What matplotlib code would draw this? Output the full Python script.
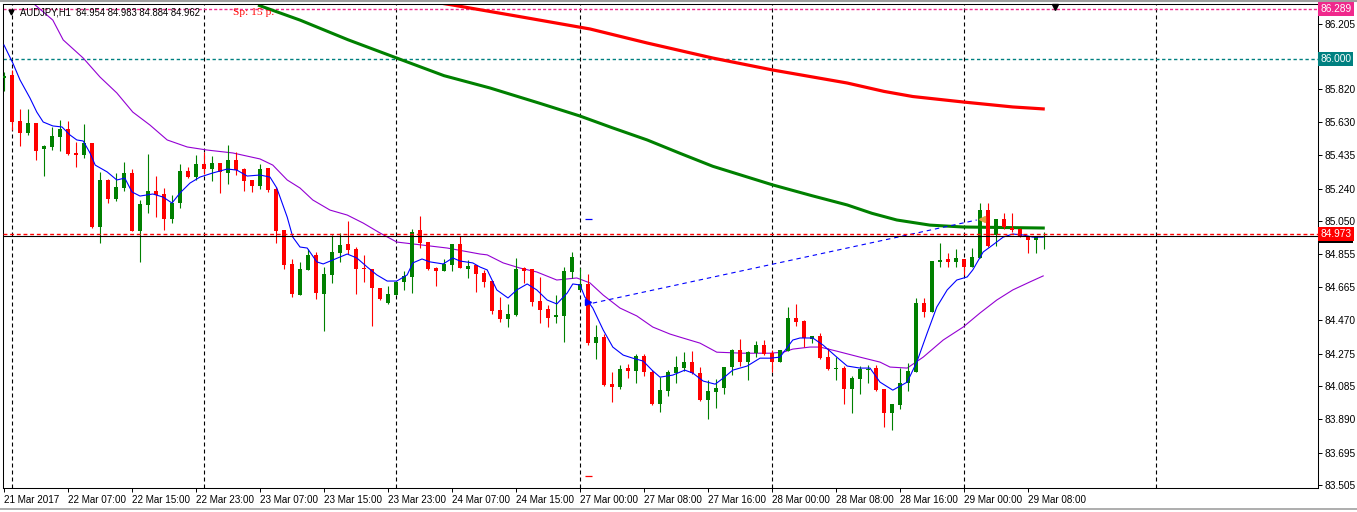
import matplotlib
matplotlib.use("Agg")
import matplotlib.pyplot as plt
from matplotlib.lines import Line2D
import numpy as np

W, H, DPI = 1357, 512, 100

# ============================================
# Data: AUDJPY H1, bars from 21 Mar 23:00 to 29 Mar 10:00 (bar index on x)
# ============================================
opens = [85.889, 85.906, 85.637, 85.566, 85.625, 85.473, 85.484, 85.543, 85.590, 85.449,
         85.438, 85.508, 85.016, 85.291, 85.180, 85.244, 85.332, 84.992, 85.145, 85.227,
         85.209, 85.063, 85.156, 85.344, 85.309, 85.385, 85.355, 85.391, 85.332, 85.408,
         85.355, 85.291, 85.256, 85.361, 85.238, 84.998, 84.799, 84.617, 84.764, 84.852,
         84.623, 84.735, 84.863, 84.916, 84.887, 84.776, 84.770, 84.658, 84.570, 84.617,
         84.694, 84.723, 84.998, 84.928, 84.776, 84.758, 84.793, 84.916, 84.770, 84.793,
         84.746, 84.699, 84.530, 84.477, 84.500, 84.776, 84.770, 84.582, 84.535, 84.489,
         84.494, 84.752, 84.647, 84.682, 84.336, 84.371, 84.096, 84.078, 84.190, 84.172,
         84.260, 84.166, 83.979, 84.055, 84.160, 84.190, 84.225, 84.160, 84.002, 84.049,
         84.073, 84.196, 84.295, 84.225, 84.278, 84.324, 84.278, 84.225, 84.289, 84.483,
         84.465, 84.360, 84.377, 84.254, 84.187, 84.190, 84.067, 84.125, 84.181, 84.190,
         84.067, 83.926, 83.973, 84.102, 84.166, 84.570, 84.518, 84.811, 84.828, 84.811,
         84.828, 84.781, 84.834, 85.115, 84.969, 85.063, 85.010, 85.004, 84.963, 84.940,
         84.954]
highs = [85.924, 85.936, 85.707, 85.707, 85.625, 85.496, 85.602, 85.643, 85.637, 85.514,
         85.619, 85.508, 85.338, 85.297, 85.332, 85.397, 85.355, 85.174, 85.443, 85.315,
         85.244, 85.203, 85.385, 85.367, 85.438, 85.455, 85.432, 85.391, 85.496, 85.455,
         85.361, 85.291, 85.385, 85.361, 85.250, 84.998, 84.828, 84.811, 84.887, 84.869,
         84.781, 84.969, 84.981, 85.051, 84.899, 84.852, 84.770, 84.658, 84.670, 84.699,
         84.758, 85.004, 85.080, 84.928, 84.781, 84.828, 84.916, 84.963, 84.822, 84.793,
         84.764, 84.699, 84.606, 84.564, 84.834, 84.781, 84.770, 84.723, 84.559, 84.617,
         84.781, 84.869, 84.776, 84.740, 84.442, 84.389, 84.166, 84.207, 84.213, 84.272,
         84.272, 84.178, 84.137, 84.178, 84.260, 84.283, 84.289, 84.196, 84.119, 84.125,
         84.196, 84.301, 84.360, 84.289, 84.348, 84.354, 84.295, 84.295, 84.547, 84.564,
         84.471, 84.377, 84.395, 84.307, 84.254, 84.202, 84.143, 84.202, 84.207, 84.207,
         84.067, 83.979, 84.190, 84.219, 84.600, 84.600, 84.817, 84.922, 84.863, 84.887,
         84.828, 84.893, 85.156, 85.156, 85.063, 85.098, 85.098, 85.010, 84.963, 84.963,
         84.983]
lows = [85.812, 85.584, 85.490, 85.555, 85.408, 85.315, 85.467, 85.461, 85.438, 85.367,
        85.420, 85.010, 84.922, 85.156, 85.168, 85.227, 84.992, 84.811, 85.098, 85.074,
        84.998, 85.039, 85.127, 85.303, 85.291, 85.326, 85.285, 85.215, 85.268, 85.320,
        85.227, 85.221, 85.238, 85.221, 84.922, 84.770, 84.606, 84.617, 84.764, 84.594,
        84.407, 84.688, 84.811, 84.858, 84.623, 84.694, 84.436, 84.588, 84.564, 84.617,
        84.647, 84.629, 84.893, 84.764, 84.670, 84.758, 84.758, 84.776, 84.717, 84.635,
        84.664, 84.506, 84.459, 84.430, 84.494, 84.688, 84.553, 84.453, 84.430, 84.453,
        84.342, 84.717, 84.647, 84.324, 84.242, 84.084, 83.991, 84.067, 84.131, 84.102,
        84.143, 83.973, 83.932, 84.026, 84.102, 84.172, 84.155, 83.997, 83.891, 83.955,
        84.037, 84.149, 84.202, 84.119, 84.254, 84.266, 84.166, 84.225, 84.289, 84.436,
        84.313, 84.336, 84.242, 84.178, 84.119, 83.979, 83.926, 84.037, 84.102, 84.055,
        83.844, 83.827, 83.950, 84.055, 84.166, 84.489, 84.518, 84.781, 84.781, 84.781,
        84.735, 84.781, 84.834, 84.899, 84.904, 85.004, 84.987, 84.957, 84.863, 84.863,
        84.884]
closes = [85.900, 85.631, 85.566, 85.625, 85.461, 85.490, 85.549, 85.590, 85.443, 85.438,
          85.508, 85.016, 85.291, 85.180, 85.250, 85.332, 84.992, 85.150, 85.227, 85.203,
          85.063, 85.156, 85.344, 85.309, 85.385, 85.355, 85.391, 85.338, 85.408, 85.350,
          85.285, 85.256, 85.355, 85.233, 84.992, 84.793, 84.623, 84.770, 84.852, 84.629,
          84.740, 84.869, 84.910, 84.881, 84.770, 84.770, 84.658, 84.594, 84.623, 84.694,
          84.729, 84.987, 84.922, 84.770, 84.758, 84.799, 84.916, 84.776, 84.787, 84.740,
          84.694, 84.524, 84.477, 84.506, 84.770, 84.758, 84.576, 84.529, 84.483, 84.500,
          84.758, 84.840, 84.682, 84.336, 84.371, 84.090, 84.078, 84.184, 84.172, 84.260,
          84.166, 83.979, 84.061, 84.166, 84.196, 84.225, 84.160, 84.002, 84.055, 84.073,
          84.196, 84.295, 84.225, 84.283, 84.324, 84.272, 84.225, 84.295, 84.483, 84.459,
          84.366, 84.377, 84.248, 84.184, 84.192, 84.067, 84.131, 84.184, 84.187, 84.061,
          83.926, 83.979, 84.102, 84.172, 84.570, 84.518, 84.817, 84.822, 84.811, 84.834,
          84.781, 84.840, 85.115, 84.904, 85.063, 85.016, 84.998, 84.963, 84.940, 84.957,
          84.962]

# moving averages (bar position, price)
fast_bar = [0, 1.1, 2, 3.25, 4.1, 4.9, 6.1, 7.25, 8.25, 9.1,
            9.9, 10.75, 11.4, 12.9, 14.1, 15.1, 16, 17, 18.6, 19.9,
            21, 22, 23.25, 24.5, 26.1, 27.9, 29.1, 30.4, 32, 33.25,
            34.1, 35.4, 36.1, 37, 37.9, 39.1, 39.9, 41.1, 42.9, 44.1,
            45.4, 46.6, 47.9, 49.1, 50.4, 51.1, 52.25, 53.25, 54.9, 56.1,
            57, 58.6, 59.5, 60.4, 61.6, 63, 64.1, 65.4, 66.6, 67.9,
            69.1, 70.4, 71.1, 72, 72.6, 73.6, 74.9, 76.1, 77.4, 78.6,
            79.9, 81, 82, 83.6, 85.1, 86.1, 87.4, 88.9, 89.9, 91.1,
            92.9, 94.5, 95.75, 97, 98.6, 99.5, 101.1, 102.4, 104.1, 105.4,
            107, 108.25, 109.5, 111.1, 112.9, 114.1, 115.4, 116.6, 117.9, 119.1,
            120.4, 121.1, 122.4, 123.6, 124.9, 126.1, 127.4, 128.6, 129.9]
fast_val = [86.079, 85.974, 85.875, 85.769, 85.687, 85.629, 85.606, 85.600, 85.553, 85.524,
            85.518, 85.448, 85.377, 85.337, 85.290, 85.301, 85.220, 85.196, 85.208, 85.190,
            85.155, 85.214, 85.272, 85.307, 85.331, 85.354, 85.348, 85.313, 85.319, 85.307,
            85.243, 85.073, 84.956, 84.898, 84.892, 84.811, 84.799, 84.822, 84.857, 84.834,
            84.781, 84.735, 84.699, 84.699, 84.735, 84.805, 84.828, 84.811, 84.799, 84.834,
            84.816, 84.805, 84.781, 84.764, 84.647, 84.600, 84.647, 84.682, 84.647, 84.588,
            84.565, 84.629, 84.682, 84.676, 84.606, 84.541, 84.413, 84.313, 84.266, 84.248,
            84.231, 84.178, 84.137, 84.149, 84.178, 84.161, 84.114, 84.096, 84.131, 84.178,
            84.202, 84.248, 84.248, 84.254, 84.354, 84.366, 84.366, 84.324, 84.254, 84.202,
            84.190, 84.190, 84.108, 84.061, 84.108, 84.225, 84.395, 84.547, 84.647, 84.705,
            84.723, 84.764, 84.869, 84.910, 84.956, 84.974, 84.968, 84.956, 84.956]

slow_bar = [3.6, 6.1, 7.4, 9.9, 12, 14.1, 16.1, 18.25, 20.4, 22.9,
            25.4, 28.6, 32, 33.6, 35.4, 37, 38.6, 40.75, 42.9, 44.9,
            47, 49.1, 51.1, 53.25, 55.4, 57.4, 59.5, 60.4, 62.4, 64.5,
            66.6, 69.1, 71.6, 73.25, 74.9, 77, 79.1, 81.1, 83.25, 84.5,
            87, 89.1, 92.4, 95.75, 97.4, 98.6, 100.75, 102, 104.1, 107,
            109.5, 110.75, 112.9, 114.9, 117.4, 119.9, 122, 124.1, 126.1, 128.25,
            129.9]
slow_val = [86.325, 86.225, 86.109, 86.003, 85.892, 85.799, 85.687, 85.611, 85.524, 85.483,
            85.465, 85.448, 85.413, 85.377, 85.290, 85.243, 85.173, 85.114, 85.085, 85.038,
            84.980, 84.927, 84.916, 84.904, 84.892, 84.875, 84.857, 84.852, 84.805, 84.775,
            84.752, 84.705, 84.717, 84.688, 84.617, 84.541, 84.495, 84.430, 84.389, 84.371,
            84.336, 84.283, 84.277, 84.277, 84.283, 84.301, 84.313, 84.313, 84.289, 84.254,
            84.225, 84.196, 84.190, 84.254, 84.354, 84.430, 84.512, 84.588, 84.647, 84.694,
            84.729]

ma200_bar = [31.75, 37, 43, 49.1, 55, 60.75, 67, 72, 76, 80.4, 84.5, 88.6, 96.1,
             101, 105.4, 108.5, 111.6, 115.75, 119.9, 130.1]
ma200_val = [86.313, 86.225, 86.110, 86.003, 85.900, 85.828, 85.738, 85.664, 85.596, 85.524,
             85.446, 85.370, 85.261, 85.198, 85.144, 85.095, 85.056, 85.026, 85.015, 85.009]

ma_long_bar = [54.5, 56.1, 64.5, 73.25, 80.4, 88.6, 96.1, 105.4, 110, 113.6, 119.9, 126.1, 130.1]
ma_long_val = [86.325, 86.313, 86.245, 86.173, 86.091, 86.003, 85.933, 85.857, 85.808, 85.778,
               85.746, 85.717, 85.705]

# trend line and objects
trend_bar = [73.6, 121.6]
trend_val = [84.570, 85.056]
arrow_bar, arrow_val = 73.0, 84.576
mark_bar = 73.06
mark_hi, mark_lo = 85.062, 83.559
tri_bar, tri_val = 122.2, 85.062

level_top = 86.289
level_round = 86.000
ask_price = 84.973
bid_price = 84.962

yticks = [86.205, 85.820, 85.630, 85.435, 85.240, 85.050, 84.855,
          84.665, 84.470, 84.275, 84.085, 83.890, 83.695, 83.505]
xtick_bars = [0, 8, 16, 24, 32, 40, 48, 56, 64, 72, 80, 88, 96, 104, 112, 120, 128]
xtick_labels = ["21 Mar 2017", "22 Mar 07:00", "22 Mar 15:00", "22 Mar 23:00",
                "23 Mar 07:00", "23 Mar 15:00", "23 Mar 23:00", "24 Mar 07:00",
                "24 Mar 15:00", "27 Mar 00:00", "27 Mar 08:00", "27 Mar 16:00",
                "28 Mar 00:00", "28 Mar 08:00", "28 Mar 16:00", "29 Mar 00:00",
                "29 Mar 08:00"]
day_bars = [1, 25, 49, 72, 96, 120, 144]

header = "AUDJPY,H1  84.954 84.983 84.884 84.962"
spread = "Sp: 15 p."

GREEN = "#008000"
RED = "#ff0000"
FONT = "Liberation Sans"

# ============================================
# Figure
# ============================================
fig = plt.figure(figsize=(W / DPI, H / DPI), dpi=DPI, facecolor="white")
ax = fig.add_axes([3 / W, (H - 488.3) / H, (1318.3 - 3) / W, (488.3 - 3.5) / H])
ax.set_xlim(-0.125, 164.29)
ax.set_ylim(83.487, 86.322)

for b in day_bars:
    ax.axvline(b, color="black", lw=0.8, ls=(0, (3.6, 2.7)), zorder=0)

# price levels
ax.axhline(level_top, color="#f0288c", lw=1.0, ls=(0, (2.2, 1.5)), zorder=1)
ax.axhline(level_round, color="#008080", lw=1.0, ls=(0, (2.4, 1.9)), zorder=1)

# moving averages
ax.plot(ma_long_bar, ma_long_val, color=RED, lw=2.3, zorder=2, solid_capstyle="butt")
ax.plot(ma200_bar, ma200_val, color=GREEN, lw=2.2, zorder=2, solid_capstyle="butt")
ax.plot(slow_bar, slow_val, color="#9400d3", lw=0.8, zorder=2)

# candles
o, hi, lo, c = (np.array(a) for a in (opens, highs, lows, closes))
idx = np.arange(len(o))
cols = np.where(c > o, GREEN, RED)
ax.vlines(idx, lo, hi, colors=cols, lw=0.8, zorder=3)
body_h = np.maximum(np.abs(c - o), 0.006)
ax.bar(idx, body_h, bottom=np.minimum(o, c), width=0.62, color=cols, linewidth=0, zorder=3)

ax.plot(fast_bar, fast_val, color="#0000ff", lw=0.8, zorder=4)

# trend line and markers
ax.plot(trend_bar, trend_val, color="#0000ff", lw=0.8, ls=(0, (4, 3.5)), zorder=4)
ax.plot([arrow_bar], [arrow_val], marker=">", color="#0000ff", ms=5, zorder=5)
ax.plot([tri_bar], [tri_val], marker="<", color="#e0a040", ms=5, zorder=5)
ax.hlines([mark_hi], mark_bar - 0.45, mark_bar + 0.45, colors="#0000ff", lw=0.9, zorder=5)
ax.hlines([mark_lo], mark_bar - 0.45, mark_bar + 0.45, colors=RED, lw=0.9, zorder=5)

# bid / ask lines
ax.axhline(ask_price, color=RED, lw=1.0, ls=(0, (2.8, 2.0)), zorder=5)
ax.axhline(bid_price, color="black", lw=0.8, zorder=5)

# ============================================
# Axes styling
# ============================================
for s in ax.spines.values():
    s.set_linewidth(0.75)
    s.set_color("black")

ax.yaxis.tick_right()
ax.set_yticks(yticks)
ax.set_yticklabels([f"{v:.3f}" for v in yticks], fontsize=7.3, family=FONT)
ax.tick_params(axis="y", length=3, width=0.7, pad=1.5, colors="black")

ax.set_xticks(xtick_bars)
ax.set_xticklabels(xtick_labels, fontsize=7.1, family=FONT)
ax.tick_params(axis="x", length=3, width=0.7, pad=1.5, colors="black")
for lbl in ax.get_xticklabels():
    lbl.set_ha("left")


def price_tag(price, face, z):
    ax.text(1.0016, price, f"{price:.3f}", transform=ax.get_yaxis_transform(),
            ha="left", va="center", fontsize=7.3, family=FONT, color="white",
            bbox=dict(boxstyle="square,pad=0.2", fc=face, ec="none"),
            zorder=z, clip_on=False)


price_tag(level_top, "#f0288c", 10)
price_tag(level_round, "#008080", 10)
price_tag(bid_price, "black", 10)
price_tag(ask_price, RED, 11)

# header texts
fig.text(20 / W, 1 - 12.5 / H, header, fontsize=6.85, family=FONT, va="center", ha="left")
fig.text(233 / W, 1 - 12.5 / H, spread, fontsize=8.2, family="Liberation Serif",
         color=RED, va="center", ha="left")
fig.add_artist(Line2D([10.5 / W], [1 - 12 / H], marker="v", color="black", ms=3.5,
                      transform=fig.transFigure))
fig.add_artist(Line2D([1055 / W], [1 - 6.5 / H], marker="v", color="black", ms=5,
                      transform=fig.transFigure))

# window borders
fig.add_artist(Line2D([0, 1], [1 - 0.8 / H, 1 - 0.8 / H], color="#a0a0a0", lw=1.5,
                      transform=fig.transFigure))
fig.add_artist(Line2D([0, 1], [1 - 509 / H, 1 - 509 / H], color="#a0a0a0", lw=1.2,
                      transform=fig.transFigure))

fig.savefig("out.png", dpi=DPI, facecolor="white")
